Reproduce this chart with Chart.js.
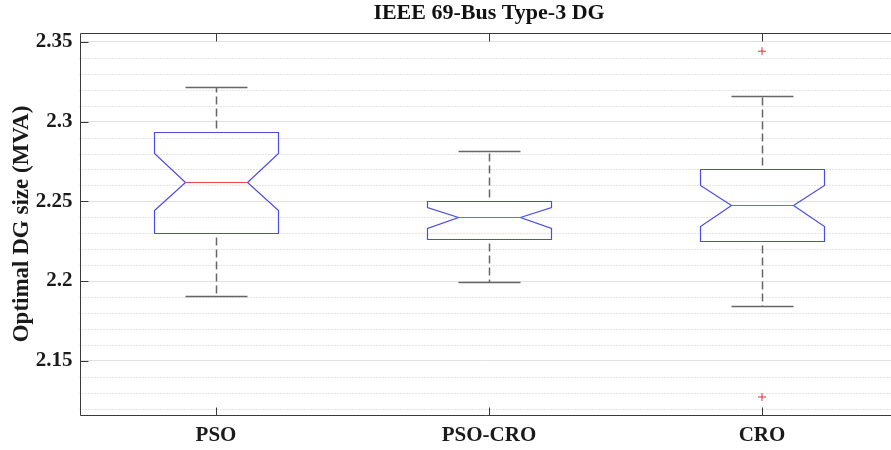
<!DOCTYPE html>
<html>
<head>
<meta charset="utf-8">
<script src="https://cdn.jsdelivr.net/npm/chart.js@4.4.0/dist/chart.umd.min.js"></script>
<style>
  html, body { margin: 0; padding: 0; background: #fff; overflow: hidden; }
  #wrap { width: 891px; height: 450px; }
</style>
</head>
<body>
<div id="wrap"><canvas id="boxChart"></canvas></div>
<script>
const categories = ['PSO', 'PSO-CRO', 'CRO'];
const whiskerHigh = [2.3219, 2.2813, 2.3163];
const q3 = [2.2933, 2.2502, 2.2706];
const notchHigh = [2.2804, 2.2464, 2.2604];
const median = [2.2621, 2.2402, 2.2477];
const notchLow = [2.2444, 2.2333, 2.2344];
const q1 = [2.2300, 2.2267, 2.2250];
const whiskerLow = [2.1908, 2.1996, 2.1844];
const outliers = [[], [], [2.3442, 2.1273]];
const yTickLabels = [2.15, 2.2, 2.25, 2.3, 2.35];

const axisColor = '#3a3a3a';
const serif = '"Liberation Serif", "Times New Roman", serif';

const outlierPoints = [];
outliers.forEach((list, i) => list.forEach(v => outlierPoints.push({ x: i + 1, y: v })));

const isMajor = v => yTickLabels.some(t => Math.abs(t - v) < 1e-6);

const boxPlugin = {
  id: 'notchedBoxes',
  beforeDatasetsDraw(chart) {
    const { ctx, chartArea, scales } = chart;
    ctx.save();
    ctx.strokeStyle = '#c9c9c9';
    ctx.lineWidth = 1;
    ctx.setLineDash([1, 2]);
    scales.y.ticks.forEach(t => {
      if (isMajor(t.value)) return;
      const y = Math.round(scales.y.getPixelForValue(t.value)) + 0.5;
      ctx.beginPath();
      ctx.moveTo(chartArea.left, y);
      ctx.lineTo(chartArea.right, y);
      ctx.stroke();
    });
    ctx.restore();
  },
  afterDatasetsDraw(chart) {
    const { ctx, chartArea, scales } = chart;
    const xs = scales.x, ys = scales.y;
    const py = v => Math.round(ys.getPixelForValue(v)) + 0.5;
    const halfBox = 0.2275;
    ctx.save();
    categories.forEach((c, i) => {
      const xc = Math.round(xs.getPixelForValue(i + 1)) + 0.5;
      const xl = Math.round(xs.getPixelForValue(i + 1 - halfBox)) + 0.5;
      const xr = Math.round(xs.getPixelForValue(i + 1 + halfBox)) + 0.5;
      const nl = Math.round(xs.getPixelForValue(i + 1 - halfBox / 2)) + 0.5;
      const nr = Math.round(xs.getPixelForValue(i + 1 + halfBox / 2)) + 0.5;

      // whiskers (dashed, drawn away from the box)
      ctx.strokeStyle = '#666';
      ctx.lineWidth = 1.5;
      ctx.setLineDash([8, 4]);
      ctx.lineDashOffset = -4;
      ctx.beginPath();
      ctx.moveTo(xc, py(q3[i])); ctx.lineTo(xc, py(whiskerHigh[i]));
      ctx.moveTo(xc, py(q1[i])); ctx.lineTo(xc, py(whiskerLow[i]));
      ctx.stroke();
      ctx.setLineDash([]);
      ctx.lineDashOffset = 0;
      ctx.beginPath();
      ctx.moveTo(nl, py(whiskerHigh[i])); ctx.lineTo(nr, py(whiskerHigh[i]));
      ctx.moveTo(nl, py(whiskerLow[i])); ctx.lineTo(nr, py(whiskerLow[i]));
      ctx.stroke();

      // notched box
      ctx.strokeStyle = '#4b4be6';
      ctx.lineWidth = 1.2;
      ctx.beginPath();
      ctx.moveTo(xl, py(q3[i]));
      ctx.lineTo(xr, py(q3[i]));
      ctx.lineTo(xr, py(notchHigh[i]));
      ctx.lineTo(nr, py(median[i]));
      ctx.lineTo(xr, py(notchLow[i]));
      ctx.lineTo(xr, py(q1[i]));
      ctx.lineTo(xl, py(q1[i]));
      ctx.lineTo(xl, py(notchLow[i]));
      ctx.lineTo(nl, py(median[i]));
      ctx.lineTo(xl, py(notchHigh[i]));
      ctx.closePath();
      ctx.stroke();

      // median
      ctx.strokeStyle = '#f0474f';
      ctx.beginPath();
      ctx.moveTo(nl, py(median[i])); ctx.lineTo(nr, py(median[i]));
      ctx.stroke();
    });

    // frame and inward ticks
    ctx.strokeStyle = axisColor;
    ctx.lineWidth = 1;
    const L = Math.round(chartArea.left) + 0.5;
    const T = Math.round(chartArea.top) + 0.5;
    const B = Math.round(chartArea.bottom) + 0.5;
    ctx.beginPath();
    ctx.moveTo(chartArea.right, T); ctx.lineTo(L, T); ctx.lineTo(L, B); ctx.lineTo(chartArea.right, B);
    yTickLabels.forEach(v => { ctx.moveTo(L, py(v)); ctx.lineTo(L + 8, py(v)); });
    categories.forEach((c, i) => {
      const xc = Math.round(xs.getPixelForValue(i + 1)) + 0.5;
      ctx.moveTo(xc, B); ctx.lineTo(xc, B - 8);
      ctx.moveTo(xc, T); ctx.lineTo(xc, T + 8);
    });
    ctx.stroke();

    // title centred over the full axes box
    ctx.fillStyle = '#111';
    ctx.font = 'bold 22px ' + serif;
    ctx.textAlign = 'center';
    ctx.textBaseline = 'middle';
    ctx.fillText('IEEE 69-Bus Type-3 DG', xs.getPixelForValue(2), 13);
    ctx.restore();
  }
};

new Chart(document.getElementById('boxChart').getContext('2d'), {
  type: 'scatter',
  data: {
    datasets: [{
      label: 'Outliers',
      data: outlierPoints,
      pointStyle: 'cross',
      radius: 4,
      borderColor: '#e0303a',
      borderWidth: 1,
      backgroundColor: '#e0303a'
    }]
  },
  options: {
    responsive: true,
    maintainAspectRatio: false,
    animation: false,
    layout: { autoPadding: false, padding: { top: 33, right: 0, left: 0, bottom: 0 } },
    plugins: {
      legend: { display: false },
      tooltip: { enabled: false },
      title: { display: false }
    },
    scales: {
      x: {
        type: 'linear',
        min: 0.5,
        max: 3.4725,
        afterBuildTicks: scale => { scale.ticks = categories.map((c, i) => ({ value: i + 1 })); },
        afterFit: scale => { scale.height = 35; },
        ticks: {
          callback: v => categories[Math.round(v) - 1] || '',
          color: '#1a1a1a',
          font: { family: serif, size: 21, weight: 'bold' },
          padding: 8,
          maxRotation: 0
        },
        grid: { display: false, drawTicks: false },
        border: { display: false }
      },
      y: {
        type: 'linear',
        min: 2.116,
        max: 2.3556,
        afterBuildTicks: scale => {
          const t = [];
          for (let k = 212; k <= 235; k++) t.push({ value: k / 100 });
          scale.ticks = t;
        },
        afterFit: scale => { scale.width = 79.5; },
        ticks: {
          callback: v => isMajor(v) ? String(+v.toFixed(2)) : '',
          color: '#1a1a1a',
          font: { family: serif, size: 21, weight: 'bold' },
          padding: 7,
          autoSkip: false
        },
        grid: {
          drawTicks: false,
          color: ctx => (ctx.tick && isMajor(ctx.tick.value)) ? '#e0e0e0' : 'rgba(0,0,0,0)'
        },
        border: { display: false },
        title: {
          display: true,
          text: 'Optimal DG size (MVA)',
          color: '#1a1a1a',
          font: { family: serif, size: 23, weight: 'bold' },
          padding: { top: 8, bottom: 0 }
        }
      }
    }
  },
  plugins: [boxPlugin]
});
</script>
</body>
</html>
